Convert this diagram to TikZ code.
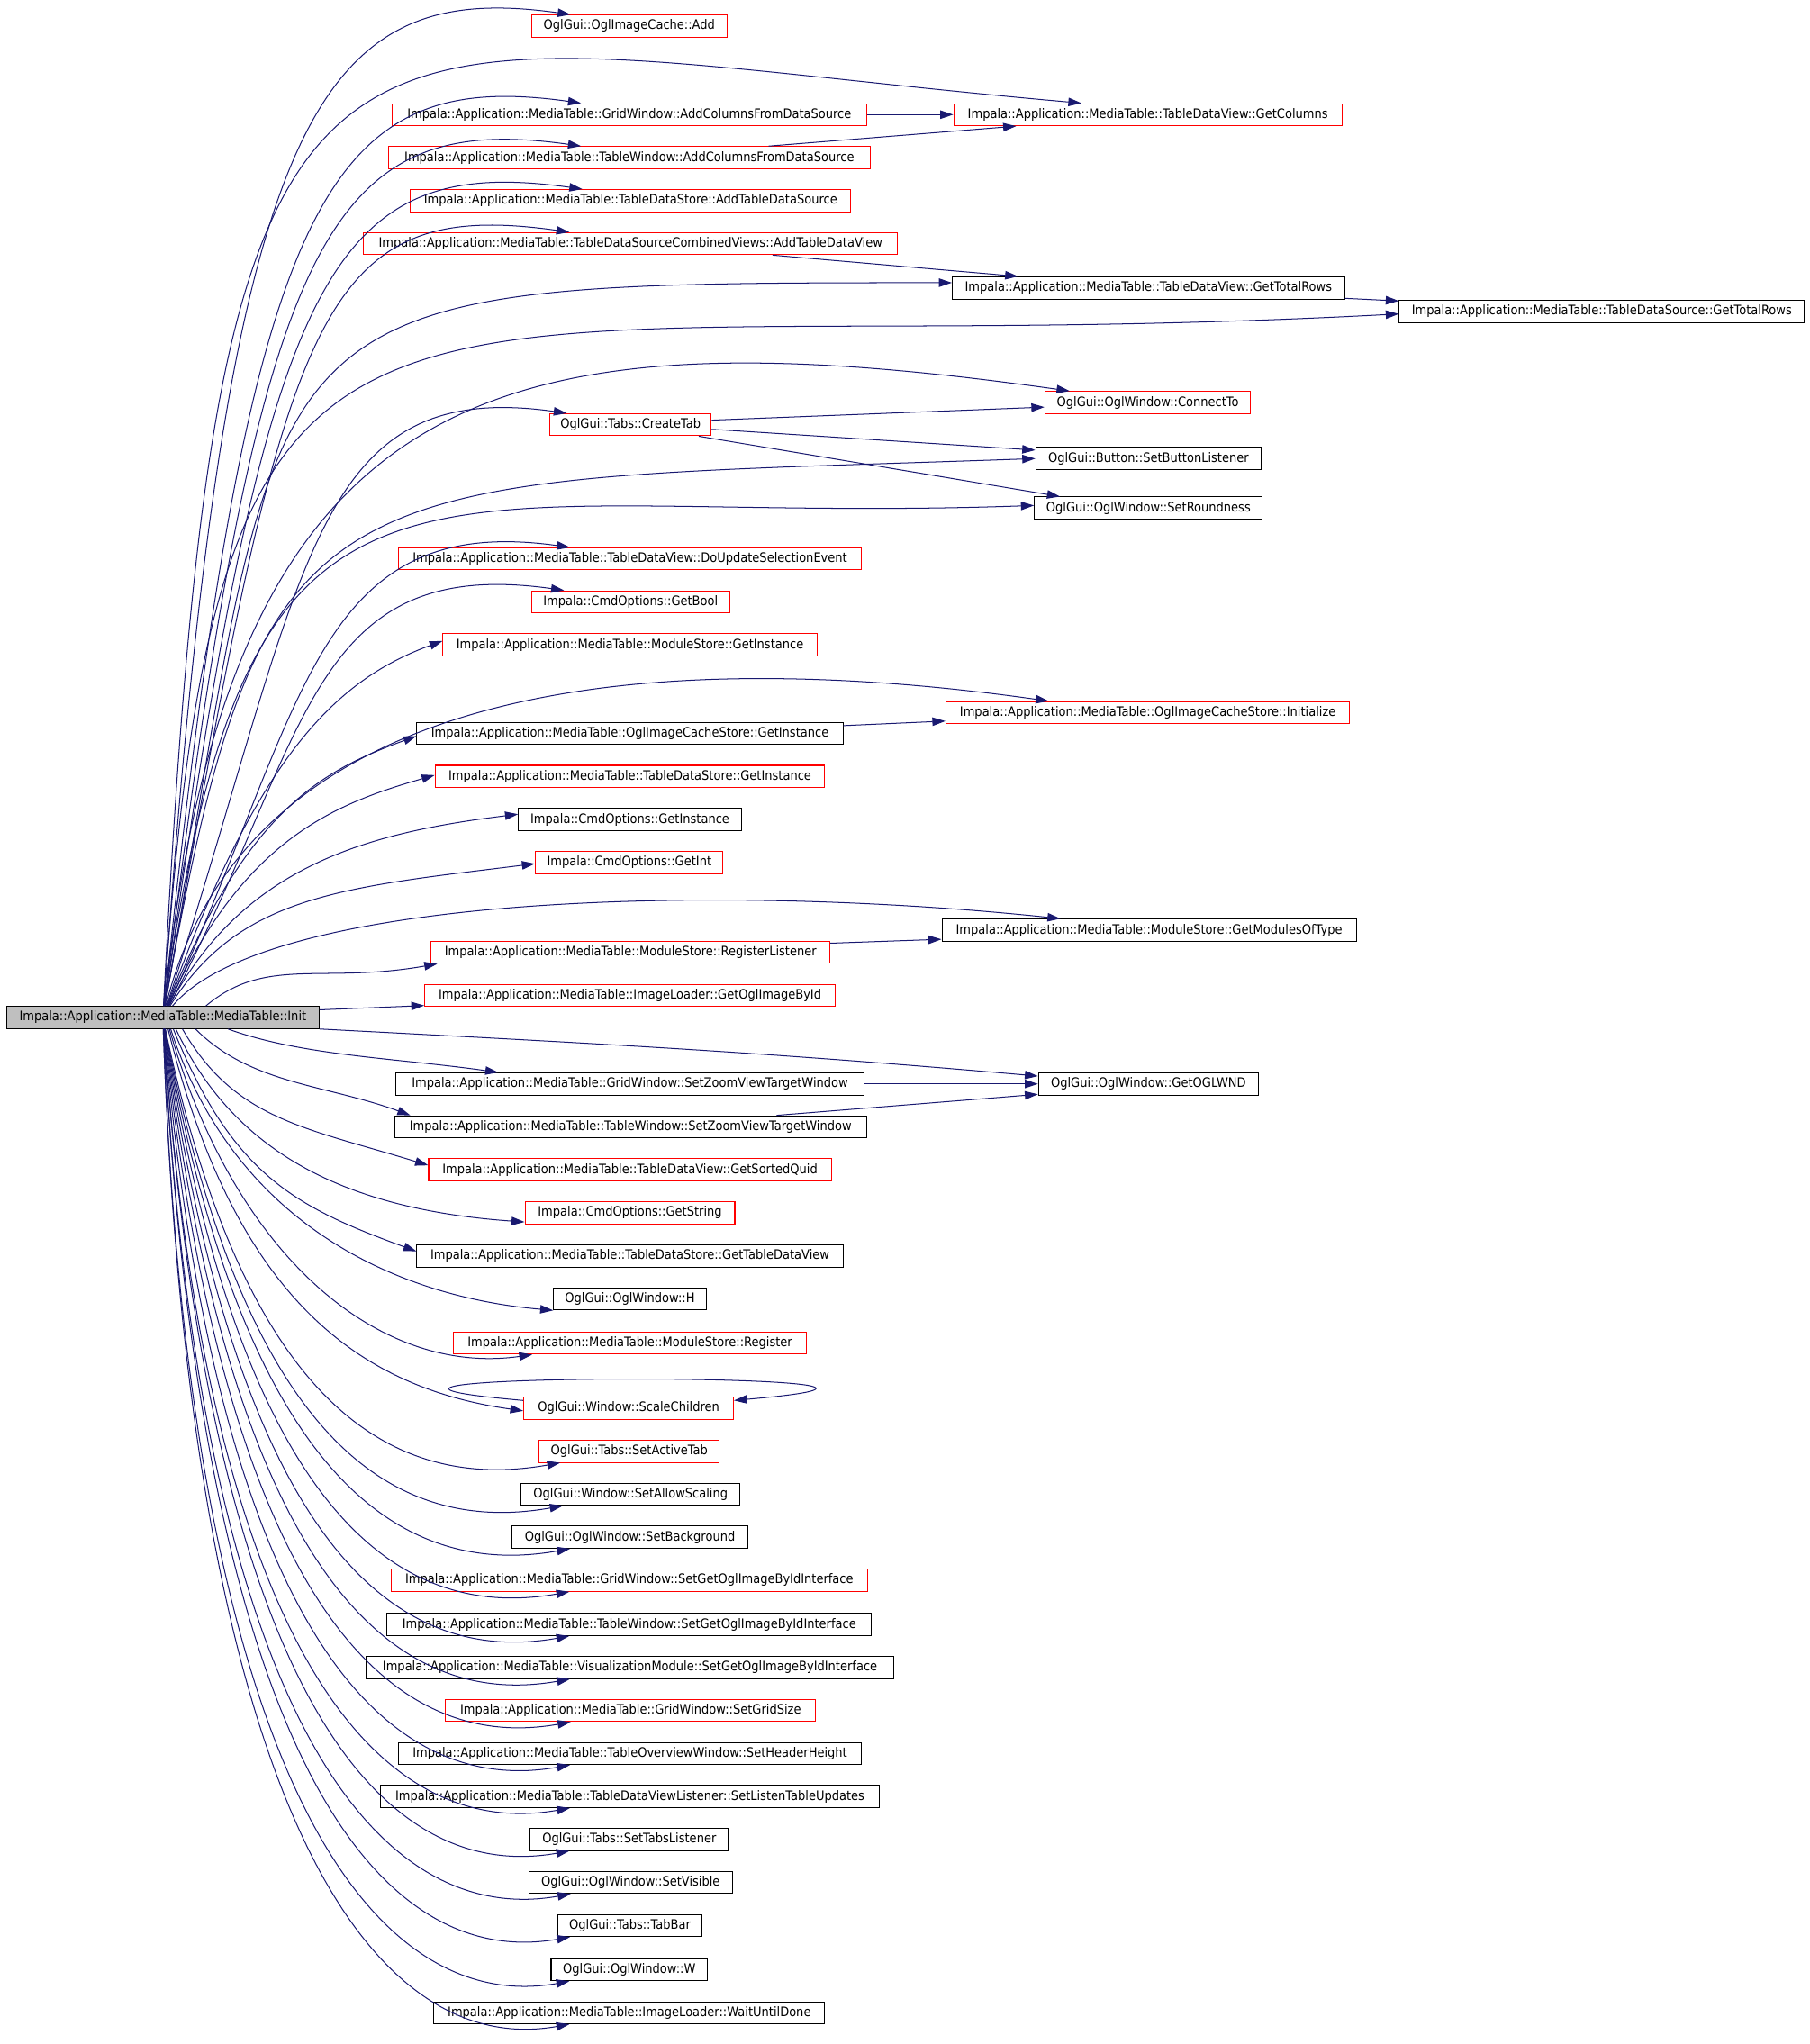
\documentclass[tikz,border=0pt]{standalone}
\usepackage{fontspec}
\setmainfont{DejaVu Sans}[FakeStretch=0.9]
\usetikzlibrary{arrows.meta}
\definecolor{midnight}{RGB}{25,25,112}
\definecolor{rootgray}{RGB}{191,191,191}
\tikzstyle{fn}=[draw=black,line width=0.7pt,minimum height=17pt,inner sep=0pt,font=\fontsize{10}{12}\selectfont]
\tikzstyle{fnred}=[fn,draw=red]
\tikzstyle{fnroot}=[fn,fill=rootgray]
\tikzstyle{call}=[draw=midnight,line width=0.7pt,-{Triangle[length=10pt,width=6.5pt]}]

\begin{document}
\begin{tikzpicture}[x=1pt,y=-1pt]
        \useasboundingbox (0,0) rectangle (1389,1569);
        \draw (125,781)    node[fnroot,minimum width=240pt](0){Impala::Application::MediaTable::MediaTable::Init};
        \draw (483,20)     node[fnred,minimum width=150pt](1){OglGui::OglImageCache::Add};
        \draw (483,88)     node[fnred,minimum width=364pt](2){Impala::Application::MediaTable::GridWindow::AddColumnsFromDataSource};
        \draw (881,88)     node[fnred,minimum width=298pt](3){Impala::Application::MediaTable::TableDataView::GetColumns};
        \draw (483,121)    node[fnred,minimum width=370pt](4){Impala::Application::MediaTable::TableWindow::AddColumnsFromDataSource};
        \draw (484,154)    node[fnred,minimum width=338pt](5){Impala::Application::MediaTable::TableDataStore::AddTableDataSource};
        \draw (484,187)    node[fnred,minimum width=410pt](6){Impala::Application::MediaTable::TableDataSourceCombinedViews::AddTableDataView};
        \draw (881.5,221)  node[fn,minimum width=301pt](7){Impala::Application::MediaTable::TableDataView::GetTotalRows};
        \draw (1229.5,239) node[fn,minimum width=311pt](8){Impala::Application::MediaTable::TableDataSource::GetTotalRows};
        \draw (881,309)    node[fnred,minimum width=158pt](9){OglGui::OglWindow::ConnectTo};
        \draw (484,326)    node[fnred,minimum width=124pt](10){OglGui::Tabs::CreateTab};
        \draw (881.5,352)  node[fn,minimum width=173pt](11){OglGui::Button::SetButtonListener};
        \draw (881.5,390)  node[fn,minimum width=175pt](12){OglGui::OglWindow::SetRoundness};
        \draw (483.5,429)  node[fnred,minimum width=355pt](13){Impala::Application::MediaTable::TableDataView::DoUpdateSelectionEvent};
        \draw (484,462)    node[fnred,minimum width=152pt](14){Impala::CmdOptions::GetBool};
        \draw (483.5,495)  node[fnred,minimum width=287pt](15){Impala::Application::MediaTable::ModuleStore::GetInstance};
        \draw (881,547)    node[fnred,minimum width=310pt](16){Impala::Application::MediaTable::OglImageCacheStore::Initialize};
        \draw (483.5,563)  node[fn,minimum width=327pt](17){Impala::Application::MediaTable::OglImageCacheStore::GetInstance};
        \draw (483.5,596)  node[fnred,minimum width=299pt](18){Impala::Application::MediaTable::TableDataStore::GetInstance};
        \draw (483.5,629)  node[fn,minimum width=171pt](19){Impala::CmdOptions::GetInstance};
        \draw (483,662)    node[fnred,minimum width=144pt](20){Impala::CmdOptions::GetInt};
        \draw (882,714)    node[fn,minimum width=318pt](21){Impala::Application::MediaTable::ModuleStore::GetModulesOfType};
        \draw (484,731)    node[fnred,minimum width=306pt](22){Impala::Application::MediaTable::ModuleStore::RegisterListener};
        \draw (483.5,764)  node[fnred,minimum width=315pt](23){Impala::Application::MediaTable::ImageLoader::GetOglImageById};
        \draw (483.5,832)  node[fn,minimum width=359pt](24){Impala::Application::MediaTable::GridWindow::SetZoomViewTargetWindow};
        \draw (881.5,832)  node[fn,minimum width=169pt](25){OglGui::OglWindow::GetOGLWND};
        \draw (484,865)    node[fn,minimum width=362pt](26){Impala::Application::MediaTable::TableWindow::SetZoomViewTargetWindow};
        \draw (483.5,898)  node[fnred,minimum width=309pt](27){Impala::Application::MediaTable::TableDataView::GetSortedQuid};
        \draw (483.5,931)  node[fnred,minimum width=161pt](28){Impala::CmdOptions::GetString};
        \draw (483.5,964)  node[fn,minimum width=327pt](29){Impala::Application::MediaTable::TableDataStore::GetTableDataView};
        \draw (483.5,997)  node[fn,minimum width=117pt](30){OglGui::OglWindow::H};
        \draw (483.5,1031) node[fnred,minimum width=271pt](31){Impala::Application::MediaTable::ModuleStore::Register};
        \draw (482.5,1081) node[fnred,minimum width=161pt](32){OglGui::Window::ScaleChildren};
        \draw (483,1114)   node[fnred,minimum width=138pt](33){OglGui::Tabs::SetActiveTab};
        \draw (484,1147)   node[fn,minimum width=168pt](34){OglGui::Window::SetAllowScaling};
        \draw (483.5,1180) node[fn,minimum width=181pt](35){OglGui::OglWindow::SetBackground};
        \draw (483,1213)   node[fnred,minimum width=366pt](36){Impala::Application::MediaTable::GridWindow::SetGetOglImageByIdInterface};
        \draw (483,1247)   node[fn,minimum width=372pt](37){Impala::Application::MediaTable::TableWindow::SetGetOglImageByIdInterface};
        \draw (483.5,1280) node[fn,minimum width=405pt](38){Impala::Application::MediaTable::VisualizationModule::SetGetOglImageByIdInterface};
        \draw (484,1313)   node[fnred,minimum width=284pt](39){Impala::Application::MediaTable::GridWindow::SetGridSize};
        \draw (483.5,1346) node[fn,minimum width=355pt](40){Impala::Application::MediaTable::TableOverviewWindow::SetHeaderHeight};
        \draw (483.5,1379) node[fn,minimum width=383pt](41){Impala::Application::MediaTable::TableDataViewListener::SetListenTableUpdates};
        \draw (483,1412)   node[fn,minimum width=152pt](42){OglGui::Tabs::SetTabsListener};
        \draw (484,1445)   node[fn,minimum width=156pt](43){OglGui::OglWindow::SetVisible};
        \draw (483.5,1478) node[fn,minimum width=111pt](44){OglGui::Tabs::TabBar};
        \draw (483,1512)   node[fn,minimum width=120pt](45){OglGui::OglWindow::W};
        \draw (483,1545)   node[fn,minimum width=300pt](46){Impala::Application::MediaTable::ImageLoader::WaitUntilDone};
        %
        \path
            (0)  edge[call,out=86,in=172,out distance=685pt,in distance=200pt] ([xshift=-45pt]1.north)
            (0)  edge[call,out=87,in=175,out distance=850pt,in distance=600pt] ([xshift=-51pt]3.north)
            (0)  edge[call,out=84,in=172,out distance=624pt,in distance=200pt] ([xshift=-37pt]2.north)
            (0)  edge[call,out=83,in=172,out distance=594pt,in distance=200pt] ([xshift=-37pt]4.north)
            (0)  edge[call,out=82,in=172,out distance=564pt,in distance=200pt] ([xshift=-37pt]5.north)
            (0)  edge[call,out=80,in=172,out distance=535pt,in distance=200pt] ([xshift=-47pt]6.north)
            (0)  edge[call,out=80,in=180,out distance=560pt,in distance=560pt] ([yshift=4pt]7.west)
            (0)  edge[call,out=86,in=183,out distance=650pt,in distance=800pt] ([yshift=-2pt]8.west)
            (0)  edge[call,out=84,in=172,out distance=480pt,in distance=450pt] ([xshift=-60pt]9.north)
            (0)  edge[call,out=72,in=172,out distance=350pt,in distance=200pt] ([xshift=-49pt]10.north)
            (0)  edge[call,out=80,in=182,out distance=430pt,in distance=550pt] (11.west)
            (0)  edge[call,out=82,in=182,out distance=480pt,in distance=480pt] ([yshift=2pt]12.west)
            (0)  edge[call,out=65,in=172,out distance=250pt,in distance=200pt] ([xshift=-46pt]13.north)
            (0)  edge[call,out=62,in=172,out distance=230pt,in distance=200pt] ([xshift=-51pt]14.north)
            (0)  edge[call,out=70,in=200,out distance=200pt,in distance=90pt]  ([yshift=3pt]15.west)
            (0)  edge[call,out=76,in=172,out distance=270pt,in distance=280pt] ([xshift=-76pt]16.north)
            (0)  edge[call,out=68,in=200,out distance=160pt,in distance=80pt]  ([yshift=-2pt]17.west)
            (0)  edge[call,out=66,in=196,out distance=140pt,in distance=80pt]  ([yshift=1pt]18.west)
            (0)  edge[call,out=62,in=187,out distance=120pt,in distance=120pt] ([yshift=4pt]19.west)
            (0)  edge[call,out=58,in=187,out distance=100pt,in distance=150pt] ([yshift=-1pt]20.west)
            (0)  edge[call,out=50,in=174,out distance=110pt,in distance=270pt] ([xshift=-68pt]21.north)
            ([xshift=33pt]0.north)  edge[call,out=40,in=190,out distance=60pt,in distance=90pt] ([xshift=5pt]22.south west)
            ([yshift=-3pt]0.north east) edge[call] ([yshift=1pt]23.south west)
            (0.south east)          edge[call,out=-3,in=175] ([yshift=6pt]25.west)
            ([xshift=50pt]0.south)  edge[call,out=-20,in=172,out distance=60pt,in distance=80pt]  ([xshift=-101pt]24.north)
            ([xshift=25pt]0.south)  edge[call,out=-45,in=160,out distance=60pt,in distance=70pt]  ([xshift=-169pt]26.north)
            ([xshift=15pt]0.south)  edge[call,out=-60,in=163,out distance=80pt,in distance=100pt] ([yshift=3.5pt]27.west)
            ([xshift=10pt]0.south)  edge[call,out=-65,in=176,out distance=110pt,in distance=130pt] ([yshift=-7pt]28.west)
            ([xshift=8pt]0.south)   edge[call,out=-68,in=160,out distance=120pt,in distance=100pt] ([yshift=3.5pt]29.west)
            ([xshift=6pt]0.south)   edge[call,out=-72,in=175,out distance=150pt,in distance=130pt] (30.south west)
            ([xshift=5pt]0.south)   edge[call,out=-74,in=188,out distance=180pt,in distance=120pt] ([xshift=-75pt]31.south)
            ([xshift=4pt]0.south)   edge[call,out=-76,in=172,out distance=210pt,in distance=130pt] ([yshift=-2pt]32.west)
            (0)  edge[call,out=-78,in=190,out distance=266pt,in distance=150pt] ([xshift=-53pt]33.south)
            (0)  edge[call,out=-79,in=190,out distance=293pt,in distance=150pt] ([xshift=-52pt]34.south)
            (0)  edge[call,out=-80,in=190,out distance=319pt,in distance=150pt] ([xshift=-46pt]35.south)
            (0)  edge[call,out=-81,in=190,out distance=346pt,in distance=150pt] ([xshift=-46pt]36.south)
            (0)  edge[call,out=-82,in=190,out distance=373pt,in distance=150pt] ([xshift=-46pt]37.south)
            (0)  edge[call,out=-83,in=190,out distance=399pt,in distance=150pt] ([xshift=-46pt]38.south)
            (0)  edge[call,out=-84,in=190,out distance=426pt,in distance=150pt] ([xshift=-46pt]39.south)
            (0)  edge[call,out=-85,in=190,out distance=452pt,in distance=150pt] ([xshift=-46pt]40.south)
            (0)  edge[call,out=-86,in=190,out distance=478pt,in distance=150pt] ([xshift=-46pt]41.south)
            (0)  edge[call,out=-86,in=190,out distance=505pt,in distance=150pt] ([xshift=-46pt]42.south)
            (0)  edge[call,out=-87,in=190,out distance=531pt,in distance=150pt] ([xshift=-46pt]43.south)
            (0)  edge[call,out=-87,in=190,out distance=558pt,in distance=150pt] ([xshift=-46pt]44.south)
            (0)  edge[call,out=-88,in=190,out distance=585pt,in distance=150pt] ([xshift=-46pt]45.south)
            (0)  edge[call,out=-88,in=190,out distance=611pt,in distance=150pt] ([xshift=-46pt]46.south)
            (2)  edge[call] (3)
            ([xshift=107pt]4.north)      edge[call] ([xshift=-101pt]3.south)
            ([xshift=109pt]6.south)      edge[call] ([xshift=-100pt]7.north)
            ([yshift=-8pt]7.east)        edge[call] ([yshift=8pt]8.west)
            ([yshift=3.5pt]10.east)      edge[call] ([yshift=-3.5pt]9.west)
            ([yshift=-3.5pt]10.east)     edge[call] ([yshift=6.5pt]11.west)
            ([xshift=-10pt]10.south east) edge[call] ([xshift=20pt]12.north west)
            ([yshift=6pt]17.east)        edge[call] ([yshift=-6.5pt]16.west)
            ([yshift=7pt]22.east)        edge[call] ([yshift=-7pt]21.west)
            (24) edge[call] (25)
            ([xshift=112pt]26.north)     edge[call] ([yshift=-8pt]25.west)
            ([yshift=6pt]32.west)        edge[call,out=175,in=5,distance=250pt] ([yshift=6pt]32.east)
        ;
\end{tikzpicture}
\end{document}
